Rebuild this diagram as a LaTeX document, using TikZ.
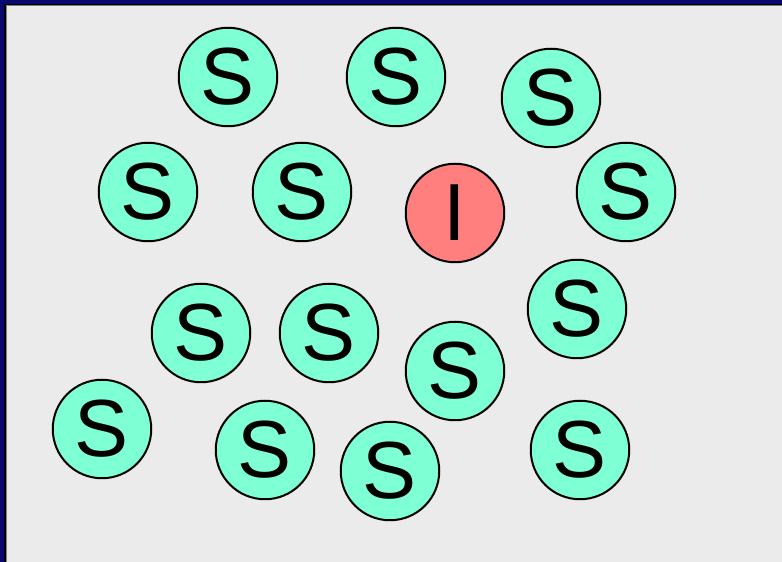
\documentclass[tikz,border=0pt]{standalone}
\usepackage{fontspec}
\setmainfont{Liberation Sans}
\definecolor{bg}{HTML}{EBEBEB}
\definecolor{navy}{HTML}{0A0A6E}
\definecolor{sfill}{HTML}{7FFFD4}
\definecolor{ifill}{HTML}{FF7F7F}
\begin{document}
\begin{tikzpicture}[x=1pt,y=1pt,
  agent/.style={circle,draw=black,line width=2pt,minimum size=98.5pt,inner sep=0pt,font=\fontsize{81}{81}\selectfont},
  sus/.style={agent,fill=sfill},
  inf/.style={agent,fill=ifill}]
\useasboundingbox (0,0) rectangle (782,562);
\fill[bg] (0,0) rectangle (782,562);
\fill[navy] (0,0) rectangle (4,562);
\fill[navy] (0,558) rectangle (782,562);
\draw[black,line width=1.5pt] (4.75,0) -- (4.75,557.25) -- (782,557.25);
\draw[gray,line width=0.6pt] (5.8,0) -- (5.8,556.2) -- (782,556.2);
\node[sus] (s1) at (228,{562-77}) {S};
\node[sus] (s2) at (396,{562-77}) {S};
\node[sus] (s3) at (551,{562-98}) {S};
\node[sus] (s4) at (148,{562-192}) {S};
\node[sus] (s5) at (302,{562-192}) {S};
\node[inf] (i1) at (455,{562-213}) {I};
\node[sus] (s7) at (626,{562-192}) {S};
\node[sus] (s8) at (201,{562-333}) {S};
\node[sus] (s9) at (329,{562-333}) {S};
\node[sus] (s10) at (455,{562-371}) {S};
\node[sus] (s11) at (577,{562-309}) {S};
\node[sus] (s12) at (102,{562-429}) {S};
\node[sus] (s13) at (265,{562-450}) {S};
\node[sus] (s14) at (390,{562-471}) {S};
\node[sus] (s15) at (580,{562-450}) {S};
\end{tikzpicture}
\end{document}
